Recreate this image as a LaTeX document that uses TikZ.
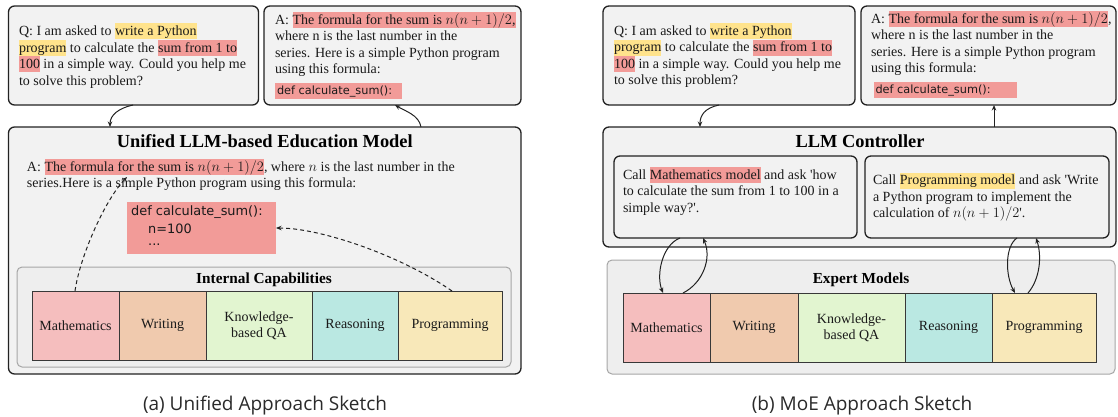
\documentclass[tikz,border=0pt]{standalone}
\usepackage{fontspec}
\setmainfont{Liberation Serif}
\newfontfamily\codefont{DejaVu Sans}
\newfontfamily\capfont{Open Sans}
\usetikzlibrary{arrows.meta}
\definecolor{boxfill}{HTML}{F2F2F2}
\definecolor{boxline}{HTML}{222222}
\definecolor{capfill}{HTML}{EEEEEE}
\definecolor{capline}{HTML}{A6A6A6}
\definecolor{hlred}{HTML}{F29B98}
\definecolor{hlyel}{HTML}{FFE38C}
\definecolor{cMath}{HTML}{F5BEBE}
\definecolor{cWrit}{HTML}{F0CAAE}
\definecolor{cKnow}{HTML}{E2F5D0}
\definecolor{cReas}{HTML}{BAE8E2}
\definecolor{cProg}{HTML}{F8E8B9}
\definecolor{txtcol}{HTML}{1A1A1A}
\definecolor{capcol}{HTML}{2A2A2A}
\newcommand\hlstrut{\rule[-3.7pt]{0pt}{16pt}}
\newcommand\hlR[1]{{\setlength{\fboxsep}{0pt}\colorbox{hlred}{\hlstrut#1}}}
\newcommand\hlY[1]{{\setlength{\fboxsep}{0pt}\colorbox{hlyel}{\hlstrut#1}}}
\newcommand\codehl[1]{{\setlength{\fboxsep}{0pt}\colorbox{hlred}{\rule[-4.5pt]{0pt}{16pt}\makebox[#1][l]{\hspace{2pt}\codefont\fontsize{11.3}{14}\selectfont def calculate\_sum():}}}}
\newcommand\boxat[6]{\node[#1, minimum width={#5pt-#3pt}, minimum height={#6pt-#4pt}] (#2) at ({(#3+#5)/2},{(#4+#6)/2}) {};}
\newcommand\sq{\textquotesingle}
\begin{document}
\begin{tikzpicture}[x=1pt,y=-1pt,
  bigbox/.style={draw=boxline, fill=boxfill, line width=1.3pt, rounded corners=6pt, inner sep=0pt, outer sep=0pt},
  capbox/.style={draw=capline, fill=capfill, line width=1pt, rounded corners=5pt, inner sep=0pt, outer sep=0pt},
  cell/.style={draw=boxline!90, line width=1pt, inner sep=0pt, outer sep=0pt, align=center,
    font=\fontsize{14}{16}\selectfont, text=txtcol},
  codebox/.style={fill=hlred, inner sep=0pt, outer sep=0pt},
  txt/.style={anchor=north west, inner sep=0pt, outer sep=0pt, align=left,
    font=\fontsize{14}{16.5}\selectfont, text=txtcol},
  codetxt/.style={anchor=north west, inner sep=0pt, align=left,
    font=\codefont\fontsize{12.9}{17.5}\selectfont, text=txtcol},
  ttl/.style={anchor=base, inner sep=0pt, font=\bfseries\fontsize{18.4}{20}\selectfont, text=black},
  subttl/.style={anchor=base, inner sep=0pt, font=\bfseries\fontsize{15.3}{17}\selectfont, text=black},
  captxt/.style={anchor=base, inner sep=0pt, font=\capfont\fontsize{19}{21}\selectfont, text=capcol},
  arr/.style={-{Stealth[length=5.5pt,width=4.5pt]}, line width=1pt, draw=boxline},
  darr/.style={arr, dash pattern=on 4pt off 3pt}]
\useasboundingbox (0,0) rectangle (1118,416);

% ---------------- left panel ----------------
\boxat{bigbox}{qL}{8.5}{6}{258.5}{105}
\boxat{bigbox}{aL}{264}{6}{521}{105}
\boxat{bigbox}{uL}{8.5}{127}{521}{374}
\boxat{capbox}{icL}{17}{267}{511}{367}

\node[txt] (qLt) at (19,23.3) {Q: I am asked to \hlY{write a Python}\\
\hlY{program} to calculate the \hlR{sum from 1 to}\\
\hlR{100} in a simple way. Could you help me\\
to solve this problem?};

\node[txt] (aLt) at (275,11.7) {A: \hlR{The formula for the sum is $n(n+1)/2$,}\\
where n is the last number in the\\
series. Here is a simple Python program\\
using this formula:\\[4.5pt]
\codehl{127pt}};

\node[ttl] (uLttl) at (264.75,147) {Unified LLM-based Education Model};
\node[txt] (uLt) at (27,159) {A: \hlR{The formula for the sum is $n(n+1)/2$}, where $n$ is the last number in the\\
series.Here is a simple Python program using this formula:};

\boxat{codebox}{cL}{127}{202}{276}{254}
\node[codetxt] (cLt) at (131,205) {\rule{0pt}{10.5pt}def calculate\_sum():\\
\hspace*{17pt}n=100\\[-5pt]
\hspace*{17pt}...};

\node[subttl] (icLttl) at (264,283) {Internal Capabilities};
\boxat{cell,fill=cMath}{mL}{32}{291}{119}{360}
\boxat{cell,fill=cWrit}{wL}{119}{291}{206}{360}
\boxat{cell,fill=cKnow}{kL}{206}{291}{312}{360}
\boxat{cell,fill=cReas}{rL}{312}{291}{398}{360}
\boxat{cell,fill=cProg}{pL}{398}{291}{502}{360}
\node[cell,draw=none] at (mL) {Mathematics};
\node[cell,draw=none] at (wL) {Writing};
\node[cell,draw=none] at (kL) {Knowledge-\\based QA};
\node[cell,draw=none] at (rL) {Reasoning};
\node[cell,draw=none] at (pL) {Programming};

\coordinate (fL) at (127,177);
\draw[arr] ([xshift=-0.5pt]qL.south) .. controls +(-14,3) and +(0,-12) .. ([xshift=-154.75pt]uL.north);
\draw[arr] ([xshift=156.25pt]uL.north) .. controls +(-2,-12) and +(10,6) .. ([xshift=2.5pt]aL.south);
\draw[darr] ([xshift=-0.5pt]mL.north) .. controls +(5,-35) and +(-22,23) .. (fL);
\draw[darr] ([xshift=2pt]pL.north) .. controls +(-52,-36) and +(44,0) .. (cL.east);

\node[captxt] (capA) at (265,410) {(a) Unified Approach Sketch};

% ---------------- right panel ----------------
\boxat{bigbox}{qR}{603}{6}{855}{105}
\boxat{bigbox}{aR}{861}{6}{1116}{105}
\boxat{bigbox}{lR}{603}{127}{1116}{247}
\boxat{bigbox}{b1}{614}{156}{857}{238}
\boxat{bigbox}{b2}{865}{156}{1109}{238}
\boxat{capbox}{emR}{607}{260}{1115}{374}

\node[txt] (qRt) at (614,23) {Q: I am asked to \hlY{write a Python}\\
\hlY{program} to calculate the \hlR{sum from 1 to}\\
\hlR{100} in a simple way. Could you help me\\
to solve this problem?};

\node[txt] (aRt) at (871,11) {A: \hlR{The formula for the sum is $n(n+1)/2$},\\
where n is the last number in the\\
series. Here is a simple Python program\\
using this formula:\\[4.2pt]
\hspace*{2.5pt}\codehl{143pt}};

\node[ttl] (lRttl) at (860,147) {LLM Controller};
\node[txt] (b1t) at (623,167) {Call \hlR{Mathematics model} and ask \sq how\\
to calculate the sum from 1 to 100 in a\\
simple way?\sq.};
\node[txt] (b2t) at (873,172.5) {Call \hlY{Programming model} and ask \sq Write\\
a Python program to implement the\\
calculation of $n(n+1)/2$\sq.};

\node[subttl] (emRttl) at (861,283) {Expert Models};
\boxat{cell,fill=cMath}{mR}{623}{293}{710}{362}
\boxat{cell,fill=cWrit}{wR}{710}{293}{798}{362}
\boxat{cell,fill=cKnow}{kR}{798}{293}{905}{362}
\boxat{cell,fill=cReas}{rR}{905}{293}{992}{362}
\boxat{cell,fill=cProg}{pR}{992}{293}{1096}{362}
\node[cell,draw=none] at (mR) {Mathematics};
\node[cell,draw=none] at (wR) {Writing};
\node[cell,draw=none] at (kR) {Knowledge-\\based QA};
\node[cell,draw=none] at (rR) {Reasoning};
\node[cell,draw=none] at (pR) {Programming};

\draw[arr] ([xshift=-10pt]qR.south) .. controls +(-14,3) and +(0,-12) .. ([xshift=-159.5pt]lR.north);
\draw[arr] ([xshift=134.5pt]lR.north) -- ([xshift=134.5pt]lR.north |- aR.south);
\draw[arr] ([xshift=-55.5pt]b1.south) .. controls +(-18,7) and +(-7,-18) .. ([xshift=-3.5pt]mR.north);
\draw[arr] ([xshift=16.5pt]mR.north) .. controls +(20,-10) and +(9,20) .. ([xshift=-32.5pt]b1.south);
\draw[arr] ([xshift=30pt]b2.south) .. controls +(-12,8) and +(-10,-18) .. ([xshift=-29pt]pR.north);
\draw[arr] ([xshift=-16pt]pR.north) .. controls +(12,-14) and +(6,18) .. ([xshift=49pt]b2.south);

\node[captxt] (capB) at (862,410) {(b) MoE Approach Sketch};
\end{tikzpicture}
\end{document}
